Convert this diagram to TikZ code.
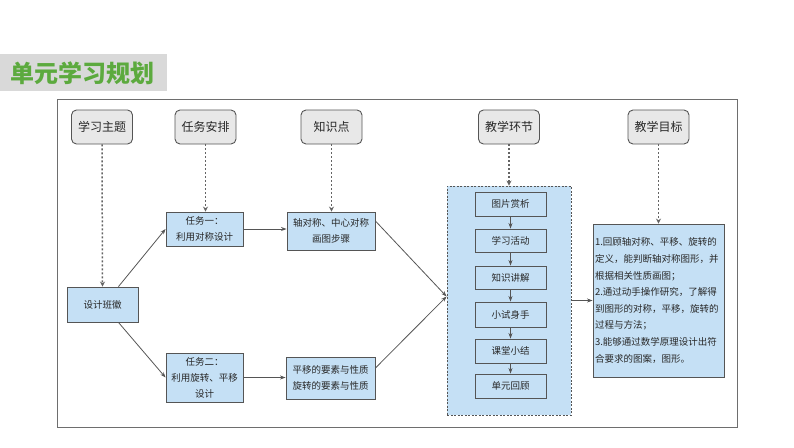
\documentclass[tikz,border=0pt]{standalone}
\usepackage{fontspec}
\setmainfont{Noto Sans CJK SC}
\usetikzlibrary{arrows.meta,calc}
\definecolor{bluebox}{RGB}{197,224,245}
\definecolor{hdrfill}{RGB}{232,232,232}
\definecolor{edgec}{RGB}{85,85,85}
\definecolor{dotc}{RGB}{100,100,100}
\definecolor{framec}{RGB}{110,110,110}
\definecolor{textc}{RGB}{40,40,40}
\definecolor{titlegreen}{RGB}{92,170,62}
\definecolor{banner}{RGB}{217,217,217}
\begin{document}
\begin{tikzpicture}[x=1pt,y=-1pt,
 hdr/.style={draw=edgec, fill=hdrfill, rounded corners=5pt, line width=0.9pt, minimum width=61pt, minimum height=34pt, inner sep=0pt, text=textc, font=\fontsize{12}{14}\selectfont},
 bbox/.style={draw=edgec, fill=bluebox, line width=0.9pt, inner sep=0pt, align=center, text=textc, font=\fontsize{9.5}{16}\selectfont},
 dotarrow/.style={draw=dotc, dash pattern=on 2pt off 2pt, line width=1.5pt, -{Stealth[length=5pt,width=5pt]}},
 arr/.style={draw=edgec, line width=0.8pt, -{Stealth[length=5.5pt,width=4pt]}}]
\useasboundingbox (0,0) rectangle (794,447);
% title banner
\fill[banner] (0,54) rectangle (167,91);
\node[text=titlegreen, font=\fontsize{24}{28}\selectfont\bfseries] (title) at (82,73) {单元学习规划};
% outer frame
\draw[draw=framec, line width=1pt] (57,99) rectangle (737,427);
% headers
\node[hdr] (h1) at (102,127) {学习主题};
\node[hdr] (h2) at (205.5,127) {任务安排};
\node[hdr] (h3) at (331.5,127) {知识点};
\node[hdr] (h4) at (509,127) {教学环节};
\node[hdr] (h5) at (658.5,127) {教学目标};
% left boxes
\node[bbox, minimum width=71pt, minimum height=35pt] (sj) at (102.5,304.5) {设计班徽};
\node[bbox, minimum width=77pt, minimum height=34pt] (t1) at (204.5,229) {任务一：\\利用对称设计};
\node[bbox, minimum width=77pt, minimum height=49pt] (t2) at (204.5,377.5) {任务二：\\利用旋转、平移\\设计};
\node[bbox, minimum width=88pt, minimum height=38pt] (zx) at (331,231) {轴对称、中心对称\\画图步骤};
\node[bbox, minimum width=89pt, minimum height=42pt] (py) at (330.5,378) {平移的要素与性质\\旋转的要素与性质};
% container
\node[draw=edgec, fill=bluebox, dash pattern=on 2pt off 1.5pt, line width=0.9pt, minimum width=124pt, minimum height=229pt, inner sep=0pt] (ct) at (509,300.5) {};
\node[bbox, minimum width=71pt, minimum height=24pt] (s1) at (510.5,204) {图片赏析};
\node[bbox, minimum width=71pt, minimum height=23pt] (s2) at (510.5,240.5) {学习活动};
\node[bbox, minimum width=71pt, minimum height=23pt] (s3) at (510.5,277.5) {知识讲解};
\node[bbox, minimum width=71pt, minimum height=25pt] (s4) at (510.5,314.5) {小试身手};
\node[bbox, minimum width=71pt, minimum height=24pt] (s5) at (510.5,351) {课堂小结};
\node[bbox, minimum width=71pt, minimum height=24pt] (s6) at (510.5,386) {单元回顾};
% target
\node[bbox, minimum width=131pt, minimum height=153pt, align=left, text width=127pt, font=\fontsize{9.5}{16.6}\selectfont] (tg) at (658.5,300.5) {1.回顾轴对称、平移、旋转的\\定义，能判断轴对称图形，并\\根据相关性质画图；\\2.通过动手操作研究，了解得\\到图形的对称，平移，旋转的\\过程与方法；\\3.能够通过数学原理设计出符\\合要求的图案，图形。};
% dotted connectors
\draw[dotarrow] (h1.south) -- (sj.north);
\draw[dotarrow] (h2.south) -- (h2.south |- t1.north);
\draw[dotarrow] (h3.south) -- (h3.south |- zx.north);
\draw[dotarrow] (h4.south) -- (ct.north);
\draw[dotarrow] (h5.south) -- (tg.north);
% solid connectors
\coordinate (sjA) at ($(sj.north)+(16,0)$);
\coordinate (sjB) at ($(sj.south)+(16,0)$);
\draw[arr] (sjA) -- (t1.west);
\draw[arr] (sjB) -- (t2.west);
\draw[arr] (t1.east) -- (t1.east -| zx.west);
\draw[arr] (t2.east) -- (t2.east -| py.west);
\coordinate (cin) at ($(ct.west)+(0,-4)$);
\coordinate (zxo) at ($(zx.east)+(0,-10)$);
\coordinate (pyo) at ($(py.east)+(0,-10)$);
\draw[arr] (zxo) -- (cin);
\draw[arr] (pyo) -- (cin);
\draw[arr] (ct.east) -- (tg.west);
\draw[arr] (s1) -- (s2);
\draw[arr] (s2) -- (s3);
\draw[arr] (s3) -- (s4);
\draw[arr] (s4) -- (s5);
\draw[arr] (s5) -- (s6);
\end{tikzpicture}
\end{document}
